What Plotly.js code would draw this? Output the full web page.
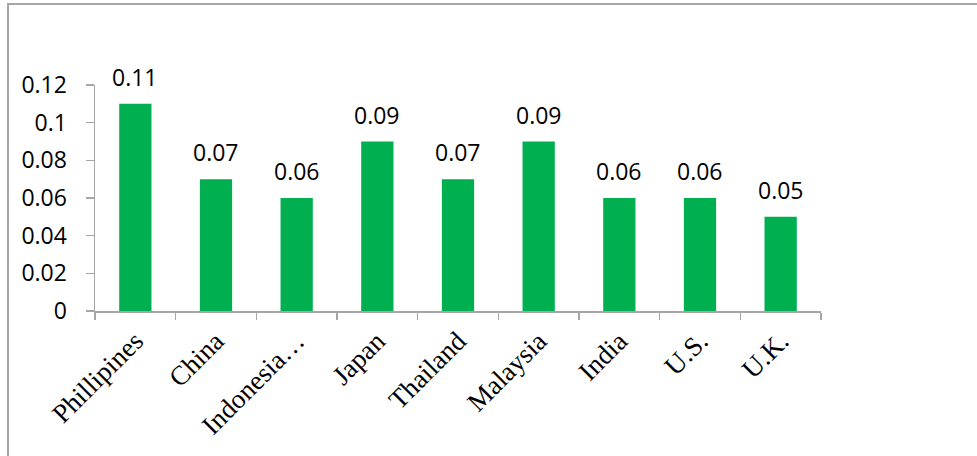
<!DOCTYPE html>
<html>
<head>
<meta charset="utf-8">
<script src="https://cdn.plot.ly/plotly-3.0.1.min.js"></script>
<style>
html,body{margin:0;padding:0;background:#fff;}
#wrap{position:relative;width:977px;height:456px;}
#chart{position:absolute;left:0;top:0;width:977px;height:456px;}
#frame{position:absolute;left:7px;top:3px;width:980px;height:460px;border-left:2px solid #a6a6a6;border-top:2px solid #a6a6a6;pointer-events:none;box-sizing:border-box;}
</style>
</head>
<body>
<div id="wrap"><div id="chart"></div><div id="frame"></div></div>
<script>
const categories = ["Phillipines","China","Indonesia…","Japan","Thailand","Malaysia","India","U.S.","U.K."];
const values = [0.11,0.07,0.06,0.09,0.07,0.09,0.06,0.06,0.05];
const valueLabels = ["0.11","0.07","0.06","0.09","0.07","0.09","0.06","0.06","0.05"];
const yTickVals = [0,0.02,0.04,0.06,0.08,0.1,0.12];
const yTickText = ["0","0.02","0.04","0.06","0.08","0.1","0.12"];

const sansFont = {family:"Open Sans, Liberation Sans, sans-serif", size:23, color:"#000"};
const serifFont = {family:"Liberation Serif, Times New Roman, serif", size:27, color:"#000"};

const trace = {
  type:"bar",
  x:categories,
  y:values,
  marker:{color:"#00B050"},
  hoverinfo:"none"
};

const annotations = categories.map((c,i)=>({
  x:c, y:values[i], xref:"x", yref:"y",
  text:valueLabels[i], showarrow:false,
  yanchor:"bottom", yshift:9,
  font:sansFont
}));

const layout = {
  width:977, height:456,
  margin:{l:95, r:156, t:85, b:145},
  paper_bgcolor:"#fff", plot_bgcolor:"#fff",
  showlegend:false,
  bargap:0.6,
  xaxis:{
    type:"category",
    showline:true, linecolor:"#a6a6a6", linewidth:1.5,
    ticks:"outside", tickson:"boundaries", ticklen:7, tickcolor:"#a6a6a6", tickwidth:1.5,
    tickangle:-45, tickfont:serifFont,
    ticklabelstandoff:2,
    showgrid:false, zeroline:false
  },
  yaxis:{
    range:[0,0.12],
    tickvals:yTickVals, ticktext:yTickText,
    showline:true, linecolor:"#a6a6a6", linewidth:1.5,
    ticks:"outside", ticklen:8, tickcolor:"#a6a6a6", tickwidth:1.5,
    ticklabelstandoff:14,
    tickfont:sansFont,
    showgrid:false, zeroline:false
  },
  annotations:annotations
};

Plotly.newPlot("chart",[trace],layout,{displayModeBar:false,staticPlot:true});
</script>
</body>
</html>
